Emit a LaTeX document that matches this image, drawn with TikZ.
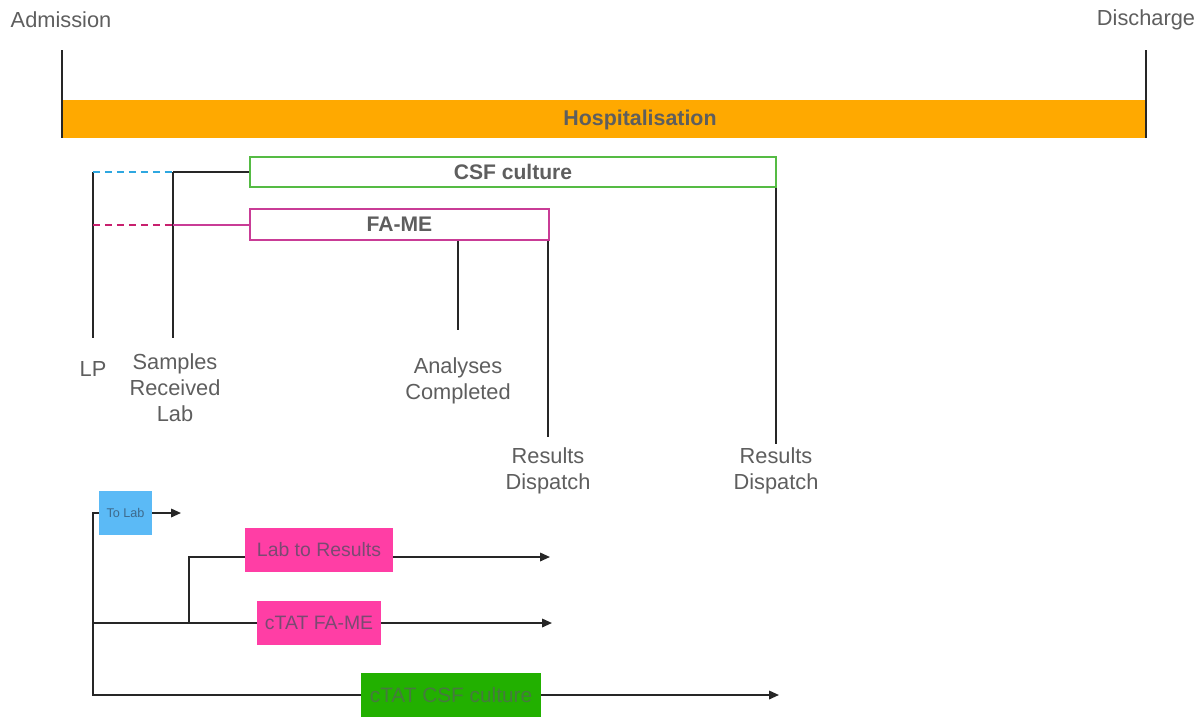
\documentclass[tikz,border=0pt]{standalone}
\usepackage{fontspec}
\setmainfont{Liberation Sans}
\usepackage{xcolor}
\usetikzlibrary{arrows.meta,positioning,calc}
\definecolor{TxtGray}{HTML}{5E5E5E}
\definecolor{Orange}{HTML}{FFA900}
\definecolor{LPBlue}{HTML}{2EA7E0}
\definecolor{LPMag}{HTML}{C8206E}
\definecolor{CSFGreen}{HTML}{55BB44}
\definecolor{FAMag}{HTML}{C93C96}
\definecolor{BoxBlue}{HTML}{5BBAF6}
\definecolor{BoxPink}{HTML}{FF3EA5}
\definecolor{BoxGreen}{HTML}{22B000}
\definecolor{PinkTxt}{HTML}{7A4A72}
\definecolor{GreenTxt}{HTML}{467A3E}
\definecolor{BlueTxt}{HTML}{3E6A8C}
\colorlet{Ink}{black!85}

\begin{document}
\begin{tikzpicture}[x=0.025cm, y=-0.025cm,
  every node/.style={font=\fontsize{15.5}{18.5}\selectfont, text=TxtGray},
  lbl/.style={align=center, inner sep=0pt},
  tick/.style={line width=1.4pt, draw=Ink},
  dsh/.style={line width=2pt, dash pattern=on 5pt off 3.5pt},
  span/.style={rectangle, line width=1.4pt, fill=white, inner sep=0pt,
               minimum height=0.76cm, font=\fontsize{15}{18}\selectfont\bfseries},
  leg/.style={rectangle, inner sep=0pt, minimum height=1.1cm,
              font=\fontsize{13.8}{16}\selectfont},
  arr/.style={-{Triangle[length=7pt,width=6pt]}, line width=1.3pt, draw=Ink},
  lnk/.style={line width=1.3pt, draw=Ink},
]
\useasboundingbox (0,0) rectangle (1203,718);

%% timeline
\node[lbl] (adm) at (61,20)   {Admission};
\node[lbl] (dis) at (1146,20) {Discharge};
\node[rectangle, fill=Orange, inner sep=0pt, minimum width=27.1cm,
      minimum height=0.95cm] (hosp) at (604,119) {};
\node[lbl, font=\fontsize{15.2}{18}\selectfont\bfseries] (hospl) at (640,120) {Hospitalisation};
\coordinate (admT) at (62,50);
\coordinate (disT) at (1146,50);
\draw[tick] (admT) -- (admT |- hosp.south);
\draw[tick] (disT) -- (disT |- hosp.south);

%% test spans
\node[span, draw=CSFGreen, minimum width=13.15cm] (csf)  at (513,172)   {CSF culture};
\node[span, draw=FAMag,    minimum width=7.475cm, minimum height=0.775cm] (fame) at (399.5,224.5) {FA-ME};

\coordinate (lpT) at (93,172);
\coordinate (lpM) at (93,225);
\coordinate (lpB) at (93,338);
\coordinate (srT) at (173,172);
\coordinate (srM) at (173,225);
\coordinate (srB) at (173,338);
\draw[tick] (lpT) -- (lpB);
\draw[tick] (srT) -- (srB);
\draw[dsh, LPBlue] (lpT) -- (srT);
\draw[dsh, LPMag]  (lpM) -- (srM);
\draw[tick] (srT) -- (srT -| csf.west);
\draw[line width=1.5pt, FAMag] (srM) -- (srM -| fame.west);

\coordinate (acB) at (458,330);
\coordinate (rdA) at (548,437);
\coordinate (rdB) at (776,444);
\draw[tick] (acB |- fame.south) -- (acB);
\draw[tick] (rdA |- fame.south) -- (rdA);
\draw[tick] (rdB |- csf.south) -- (rdB);

\node[lbl] (lp)  at (93,369)  {LP};
\node[lbl] (srl) at (175,388) {Samples\\Received\\Lab};
\node[lbl] (acl) at (458,381) {Analyses\\Completed};
\node[lbl] (rdl) at (548,471) {Results\\Dispatch};
\node[lbl] (rcl) at (776,471) {Results\\Dispatch};

%% legend
\node[leg, fill=BoxBlue, minimum width=1.325cm, font=\fontsize{9}{11}\selectfont,
      text=BlueTxt] (tolab) at (125.5,513) {To Lab};
\node[leg, fill=BoxPink, minimum width=3.7cm, text=PinkTxt] (labres) at (319,550) {Lab to Results};
\node[leg, fill=BoxPink, minimum width=3.1cm, text=PinkTxt] (ctatf)  at (319,623) {cTAT FA-ME};
\node[leg, fill=BoxGreen, minimum width=4.5cm, text=GreenTxt,
      font=\fontsize{14.8}{17}\selectfont] (ctatc) at (451,695) {cTAT CSF culture};

\coordinate (trT) at (93,513);
\coordinate (trB) at (93,695);
\coordinate (br)  at (189,623);
\coordinate (tlE) at (181,513);
\coordinate (lrE) at (550,557);
\coordinate (cfE) at (552,623);
\coordinate (ccE) at (779,695);
\draw[lnk] (tolab.west) -- (trT) -- (trB) -- (ctatc.west);
\draw[lnk] (trT |- br) -- (ctatf.west);
\draw[lnk] (br) -- (br |- lrE) -- (lrE -| labres.west);
\draw[arr] (tolab.east) -- (tlE);
\draw[arr] (labres.east |- lrE) -- (lrE);
\draw[arr] (ctatf.east) -- (cfE);
\draw[arr] (ctatc.east) -- (ccE);
\end{tikzpicture}
\end{document}
